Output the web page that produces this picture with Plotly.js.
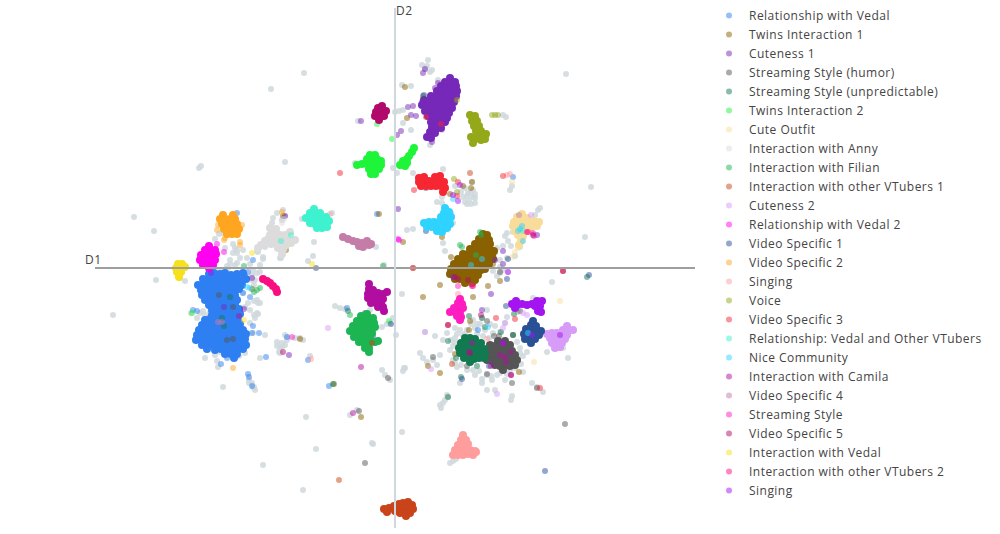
<!DOCTYPE html>
<html>
<head>
<meta charset="utf-8">
<script src="https://cdn.plot.ly/plotly-3.0.1.min.js"></script>
<style>
html,body{margin:0;padding:0;background:#fff}
.legendtext,.annotation-text{letter-spacing:0.46px}
</style>
</head>
<body>
<div id="main" style="width:1000px;height:534px"></div>
<script>
// all points are [D1, D2]
const otherDocs = [[-282,-47],[-261,51],[-241,37],[-239,-12],[-194,102],[-196,100],[-124,179],[-91,195],[-110,106],[171,194],[196,81],[190,31],[157,-14],[-132,-197],[-92,-222],[-89,-149],[-79,-181],[-22,-176],[-23,-175],[7,-164],
[-180,29],[-173,35],[-162,15],[-152,18],[-148,10],[-142,-2],[-135,3],[-167,0],[-155,10],[-138,-5],[-132,9],[-137,16],[-130,21],[-123,45],[-115,10],[-135,-35],[-138,-32],[-137,-46],[-141,-47],[-150,-39],[-152,-25],[-198,-50],[-190,-47],[-188,-50],[-130,-67],[-142,-65],[-177,-99],[-175,-84],[-153,-82],[-215,-10],[-172,-119],[-142,-119],[-146,-112],[-113,-79],[-115,-85],[-108,-69],[-113,48],[-112,58],[-118,55],[-110,52],[-158,5],[-145,4],[-140,-12],[-150,-12],[-185,-2],[-175,-2],[-165,4],[-158,15],[-210,-13],[-204,-45],[-190,-90],[-135,-90],
[-160,3],[-168,2],[-143,-12],[-143,-7],[-148,-12],[-135,-4],[-141,-17],[-141,-33],[-147,-35],[-145,-42],[-140,-50],[-145,-55],[-195,-45],[-192,-43],[-185,-44],[-160,20],[-162,24],[-158,18],[-170,20],[-176,34],[-170,36],[-165,8],[-180,-87],[-178,-93],[-150,-85],[-156,-88],[-118,-74],[-118,-78],[-116,-84],[-108,-72],[-100,-70],[-95,-70],[-146,-115],[-141,-119],
[7,-26],[12,38],[18,39],[50,17],[48,25],[112,35],[118,36],[125,21],[102,20],[105,1],[105,-5],[95,8],[108,-2],[138,-30],[123,-44],[112,-49],[92,-42],[87,-50],[90,-62],[72,-62],[65,-62],[68,-67],[52,-65],[40,-68],[30,-64],[48,-72],[55,-82],[45,-87],[32,-94],[25,-85],[10,-100],[8,-103],[62,-99],[65,-115],[87,-115],[87,-111],[80,-107],[48,-135],[53,-129],[116,-132],[142,-119],[137,-115],[148,-124],[173,-90],[168,-80],[152,-84],[122,-74],[118,-67],[110,-55],[105,-64],[98,-65],[128,-104],[115,-102],[102,-107],[92,-107],[78,-52],[82,-56],[60,-70],[58,-92],[38,-92],[42,-97],[28,-90],[97,-112],[110,-112],[125,-80],[132,-84],[100,-122],[92,-122],[117,-128],
[76,-56],[80,-60],[85,-56],[95,-56],[100,-58],[60,-60],[62,-66],[70,-66],[82,-66],[88,-68],[94,-70],[60,-95],[66,-97],[72,-102],[78,-102],[84,-103],[96,-108],[105,-105],[112,-106],[120,-100],[126,-96],[128,-88],[125,-85],[60,-75],[56,-72],[58,-78],[50,-132],[52,-127],[45,-137],[46,-140],[55,-195],[58,-193],[61,-191],[110,32],[113,27],[116,22],[120,12],[108,22],[112,10],[100,15],[105,8],[95,12],[98,-3],[102,-8],
[32,202],[35,196],[30,199],[27,203],[33,208],[37,198],[7,183],[16,182],[0,156],[8,158],[4,157],[8,145],[16,138],[47,138],[35,123],[-2,100],[2,95],[18,95],[48,99],[108,153],[111,151],[43,188],[78,71],[73,75],[68,71],[77,86],[80,70],[76,64],[80,65],[47,71],[47,65],[58,45],[118,43],[143,58],[140,53],[145,60],[-40,105],[-37,147],[42,66],[60,82],[72,64],[56,55],[50,56],[117,82],[115,78],
[70,80],[75,75],[70,66],[78,78],[74,68],[66,76],[80,74],[72,72],
[-81,26],[-82,12],[-87,7],[-93,49],[-132,11],[-138,17],[-114,10],[-19,21],[-11,3],[-63,55],[-122,50],
[-60,-38],[-55,-40],[-50,-41],[-137,-35],[-138,-45],[-110,-67],[-92,-72],[-115,-80],[-110,-77],[-113,-75],[-85,-88],[-13,-102],[-10,-107],[-5,-112],[-45,-147],[-38,-142],[-140,-122],[-143,-115],[-13,-59],[-8,-56],[-2,-50],[1,-67],[9,-100],[-5,-55],[-25,-42]];
const relVedal = [[-158,55],[-142,8],[-145,-29],[-152,-25],[-150,-7],[-147,-4],[-202,-42],[-198,-43],[-142,-58],[-143,-65],[-136,-65],[-168,-90],[-174,-96],[-129,-89],[-147,-106],[-146,-109],[-143,-118],[-108,-69],[-87,-92],[-66,-118],[-48,-40],[-18,54],[83,-62],[118,91]];
const relVedalCore = [[-186,-6],[-181,-5],[-175,-6],[-170,-5],[-164,-7],[-158,-6],[-152,-5],
[-192,-11],[-187,-12],[-181,-11],[-176,-12],[-170,-11],[-165,-12],[-159,-11],[-154,-12],[-149,-11],
[-197,-17],[-191,-16],[-186,-17],[-180,-16],[-175,-17],[-169,-16],[-164,-17],[-158,-16],[-153,-17],
[-194,-22],[-189,-21],[-183,-22],[-178,-21],[-172,-22],[-167,-21],[-161,-22],[-156,-21],
[-193,-27],[-187,-26],[-182,-27],[-176,-26],[-171,-27],[-165,-26],[-160,-27],
[-190,-32],[-185,-31],[-179,-32],[-174,-31],[-168,-32],[-163,-31],[-158,-32],
[-186,-37],[-181,-36],[-176,-37],[-170,-36],[-165,-37],[-160,-36],
[-183,-42],[-178,-41],[-172,-42],[-167,-41],[-161,-42],[-156,-41],
[-183,-47],[-177,-46],[-172,-47],[-166,-46],[-160,-47],[-155,-46],
[-190,-52],[-185,-51],[-179,-52],[-174,-51],[-168,-52],[-163,-51],[-157,-52],
[-193,-57],[-188,-56],[-182,-57],[-177,-56],[-171,-57],[-166,-56],[-160,-57],[-155,-56],
[-196,-62],[-191,-61],[-185,-62],[-180,-61],[-174,-62],[-169,-61],[-163,-62],[-158,-61],[-152,-62],
[-198,-67],[-193,-66],[-187,-67],[-182,-66],[-176,-67],[-171,-66],[-165,-67],[-160,-66],[-154,-67],[-149,-66],
[-199,-72],[-194,-71],[-188,-72],[-183,-71],[-177,-72],[-172,-71],[-166,-72],[-161,-71],[-155,-72],[-150,-71],
[-193,-77],[-188,-76],[-182,-77],[-177,-76],[-171,-77],[-166,-76],[-160,-77],[-155,-76],[-149,-77],
[-188,-81],[-180,-82],[-174,-81],[-169,-82],[-163,-81],[-158,-82],[-152,-81],
[-170,-86],[-164,-86],[-158,-86],[-161,-90]];
const twins1 = [[45,-17],[28,-29],[93,-18],[105,-13],[78,-29],[75,-53],[74,-62],[45,-105],[33,-98],[60,-86],[124,-104],[92,25],[80,22],[56,11],[47,31],[98,4],[10,181],[12,150],[45,179],[62,178],[49,162],[33,156],[36,161],[68,82],[76,80],[77,86],[55,74],[-26,109],[-109,18],[8,26],[-16,54],[-112,52],[-95,-71],[-61,-116],[-34,-149],[-143,-21]];
const twins1Core = [[88,34],[92,33],[84,29],[89,29],[94,28],[80,24],[85,24],[90,23],[95,24],[75,19],[80,19],[85,18],[90,19],[95,18],[99,17],
[68,14],[73,14],[78,13],[83,14],[88,13],[93,14],[97,13],[63,9],[68,9],[73,8],[78,9],[83,8],[88,9],[93,8],[98,9],
[59,4],[64,4],[69,3],[74,4],[79,3],[84,4],[89,3],[94,4],[56,-1],[61,-1],[66,-2],[71,-1],[76,-2],[81,-1],[86,-2],[90,-1],
[55,-6],[60,-6],[65,-7],[70,-6],[75,-7],[80,-6],[83,-7],[60,-11],[65,-11],[70,-12],[75,-11],[80,-12],[70,-15],[77,-15]];
const cuteness1 = [[28,195],[30,199],[18,162],[13,161],[6,137],[2,133],[37,126],[-34,147],[3,59],[16,153],[21,152],[27,166],[96,-26],[108,17],[100,8],[108,4],[87,-42],[142,33],[-106,-87],[-143,-10],[-151,-41],[-171,-39],[-30,-45],[-23,-57],[-22,-68],[-110,52],[58,-9],[43,185],[40,180]];
const cuteness1Core = [[55,190],[50,186],[55,185],[60,186],[46,182],[51,181],[56,181],[61,182],[42,177],[47,177],[52,176],[57,176],[62,177],
[36,172],[41,172],[46,171],[51,171],[56,172],[61,172],[29,168],[34,167],[39,167],[44,166],[49,166],[54,167],[59,166],[27,163],[32,162],[37,162],[42,161],[47,161],[52,162],[57,160],
[30,157],[35,157],[40,156],[45,156],[50,156],[54,155],[33,152],[38,151],[43,151],[48,151],[52,150],[36,146],[41,146],[46,145],[50,146],[37,141],[42,140],[46,140],[35,136],[40,135],[32,131],[36,130]];
const humor = [[38,-89],[92,-53],[99,-68],[104,-68],[125,-43],[92,-106],[117,-115],[142,-120],[72,-98],[118,-67],[105,-4],[-7,-110],[-30,-195],[-36,-143],[-176,-27],[-162,-39],[-162,-71],[-168,-72],[170,-156],[28,172]];
const humorCore = [[103,-73],[110,-73],[95,-77],[100,-78],[105,-77],[110,-78],[115,-77],[92,-82],[97,-83],[102,-82],[107,-83],[112,-82],[117,-83],[90,-87],[95,-88],[100,-87],[105,-88],[110,-87],[115,-88],[120,-87],
[92,-92],[97,-93],[102,-92],[107,-93],[112,-92],[117,-93],[122,-92],[100,-97],[105,-98],[110,-97],[115,-98],[120,-97],[108,-102]];
const unpredictable = [[53,-73],[74,-48],[87,-50],[119,-46],[118,-67],[61,-90],[82,-98],[66,-109],[53,-129],[106,-64],[90,-59],[-47,-43],[-62,-116],[-165,-29],[-171,-58],[-173,-50],[192,-9]];
const unpredictableCore = [[70,-70],[75,-70],[80,-71],[66,-75],[71,-75],[76,-75],[81,-76],[86,-75],[64,-80],[69,-80],[74,-80],[79,-81],[84,-80],[89,-81],[65,-85],[70,-85],[75,-85],[80,-86],[85,-85],[90,-85],[69,-90],[74,-90],[79,-91],[84,-90],[89,-90],[75,-94]];
const twins2 = [[-3,129],[-6,-53],[-203,-45],[-18,144]];
const twins2Core = [[-25,113],[-20,113],[-28,109],[-23,108],[-18,109],[-14,107],[-38,103],[-33,104],[-28,104],[-23,103],[-18,104],[-14,103],[-26,99],[-21,98],[-16,99],[-24,94],[-20,94],
[19,120],[17,116],[14,112],[12,109],[8,107],[12,105],[5,103],[10,102]];
const cuteOutfit = [[120,16],[123,20],[117,11],[117,86],[165,-33],[139,-94]];
const cuteOutfitCore = [[127,54],[122,51],[127,50],[132,50],[119,46],[124,46],[129,46],[134,46],[139,47],[144,46],[118,42],[123,41],[128,41],[133,42],[138,42],[142,42],[120,37],[125,36],[130,37],[135,37],[123,33],[128,32],[126,27],[124,23]];
const anny = [[-111,49],[-113,45]];
const annyCore = [[-125,40],[-119,39],[-115,33],[-120,35],[-125,33],[-110,33],[-105,36],[-127,29],[-122,29],[-117,28],[-112,29],[-107,28],[-124,24],[-119,24],[-114,24],[-109,23],[-104,25],[-117,20],[-112,19],[-113,14],[-130,27],[-134,23],[-137,20],[-100,28]];
const filian = [[-151,2],[85,36],[86,33],[65,23],[67,21],[81,13],[-12,2],[-90,50],[-45,-47],[-141,-24],[-138,-22],[-135,-20]];
const filianCore = [[-28,-46],[-34,-48],[-28,-51],[-22,-50],[-38,-53],[-33,-54],[-27,-56],[-21,-55],[-42,-58],[-37,-59],[-32,-60],[-26,-60],[-20,-59],[-45,-63],[-40,-64],[-34,-64],[-29,-65],[-23,-65],[-41,-69],[-36,-69],[-30,-70],[-25,-70],[-36,-74],[-31,-75],[-26,-75],[-20,-74],[-17,-73],[-30,-80],[-26,-80],[-26,-84]];
const otherVt1 = [[-56,-212],[18,0],[57,-96],[75,95],[-23,-75]];
const otherVt1Core = [[-11,-241],[-6,-240],[-1,-238],[0,-243],[-8,-244],[4,-236],[8,-235],[13,-234],[17,-237],[4,-241],[9,-240],[14,-240],[18,-241],[5,-245],[10,-245],[15,-245],[11,-248]];
const cuteness2 = [[30,-64],[36,-101],[102,-126],[132,-47],[128,-45],[110,-55],[108,-60],[113,-4],[-67,-60],[136,53]];
const cuteness2Core = [[172,-58],[168,-62],[173,-63],[178,-62],[152,-66],[157,-65],[162,-65],[167,-66],[172,-67],[155,-70],[160,-70],[165,-71],[170,-71],[157,-75],[162,-75],[167,-75],[160,-80],[165,-79]];
const relVedal2 = [[-178,24],[-171,16],[4,28],[3,29]];
const relVedal2Core = [[-186,22],[-190,18],[-185,18],[-180,18],[-194,13],[-189,13],[-184,13],[-179,14],[-195,8],[-190,8],[-185,8],[-180,8],[-192,3],[-187,3],[-182,3],[-186,0]];
const video1 = [[111,-38],[67,-111],[94,-98],[113,9],[31,37],[-79,0],[31,80],[29,173],[-4,-56],[194,-7],[112,-11],[150,-203]];
const video1Core = [[138,-53],[136,-57],[141,-58],[131,-61],[136,-62],[141,-62],[146,-63],[129,-66],[134,-67],[139,-66],[144,-67],[130,-71],[135,-72],[140,-71],[136,-75]];
const video2 = [[-177,43],[-178,38],[-170,30],[-155,26],[-153,43],[-162,-100],[-113,56],[-171,28],[-155,23]];
const video2Core = [[-172,53],[-162,53],[-175,49],[-170,49],[-165,49],[-160,49],[-173,44],[-168,44],[-163,44],[-158,44],[-171,39],[-166,39],[-161,39],[-156,39],[-168,34],[-163,34],[-158,34]];
const singing = [[92,-71],[-84,-91],[-65,54],[115,94],[112,93],[63,-26]];
const singingCore = [[68,-167],[66,-172],[71,-172],[63,-177],[68,-177],[73,-176],[60,-182],[65,-182],[70,-181],[75,-182],[80,-183],[58,-187],[63,-187],[68,-187],[73,-186],[78,-187],[81,-184]];
const voice = [[62,168],[100,153],[97,153],[103,153],[59,89],[62,76]];
const voiceCore = [[75,153],[80,152],[77,147],[82,147],[79,142],[84,142],[81,137],[86,137],[83,132],[88,132],[91,134],[76,131],[80,129],[86,128],[90,129],[78,125]];
const video3 = [[-55,95],[19,78],[31,151],[46,144],[63,86],[62,72],[108,92],[101,-50],[120,-51],[53,-57],[145,-120],[168,-3],[18,0]];
const video3Core = [[24,90],[29,91],[40,91],[45,92],[24,86],[29,86],[34,87],[39,86],[44,87],[49,86],[26,82],[31,82],[36,82],[41,82],[46,82],[50,80],[48,76]];
const vedalVtubers = [[-114,27],[-104,33],[128,37]];
const vedalVtubersCore = [[-81,59],[-85,55],[-80,54],[-75,55],[-89,50],[-84,49],[-79,49],[-74,50],[-69,51],[-85,45],[-80,44],[-75,44],[-70,45],[-66,47],[-78,40],[-73,40],[-68,41]];
const niceCommunity = [[-148,-19],[-145,-20],[128,27],[125,39],[127,42],[123,37],[87,9],[76,3],[93,-59],[133,-65],[58,69]];
const niceCommunityCore = [[50,60],[49,55],[54,56],[46,51],[51,50],[56,51],[29,45],[34,46],[39,46],[44,46],[49,46],[55,44],[32,41],[37,41],[42,41],[47,41],[52,40],[42,37],[47,36]];
const camila = [[74,-84],[77,-75],[108,-75],[105,-87],[110,-89],[111,-94],[116,-84],[116,-107],[96,-98],[-42,-145],[-34,-99],[-156,-48]];
const camilaCore = [[-26,-16],[-26,-21],[-22,-22],[-27,-26],[-22,-26],[-17,-25],[-12,-26],[-8,-24],[-27,-30],[-22,-31],[-17,-30],[-12,-31],[-24,-35],[-19,-35],[-14,-35],[-17,-39],[-12,-39],[-11,-43]];
const video4 = [[-177,-54],[-173,-54],[124,53]];
const video4Core = [[-52,31],[-47,29],[-42,27],[-38,26],[-33,25],[-28,27],[-24,24],[-36,22],[-32,21],[-26,23]];
const streamingStyle = [[-103,-69],[63,-18],[77,-18],[138,35],[133,36],[139,32]];
const streamingStyleCore = [[65,-31],[63,-35],[67,-36],[59,-40],[64,-40],[68,-40],[55,-44],[60,-44],[65,-44],[62,-48],[66,-49],[65,-52]];
const video5 = [[-112,-84],[73,-12],[63,-11],[60,-9],[168,-3],[53,-57],[86,-47],[116,-107],[138,33],[75,-85]];
const video5Core = [[-17,160],[-13,162],[-19,156],[-14,156],[-9,157],[-20,152],[-15,151],[-11,152],[-16,148]];
const interactVedal = [[-83,4],[-143,15],[-151,-52]];
const interactVedalCore = [[-217,4],[-213,4],[-219,0],[-214,0],[-210,1],[-218,-4],[-214,-4],[-216,-9]];
const otherVt2 = [[132,36],[78,-18]];
const otherVt2Core = [[-132,-11],[-128,-13],[-125,-15],[-122,-18],[-119,-21],[-118,-24]];
const singing2 = [[63,67],[58,73],[65,83],[113,-4],[165,-67],[137,-67],[108,-75],[-184,-5]];
const singing2Core = [[121,-33],[117,-36],[122,-37],[127,-36],[132,-37],[137,-36],[142,-33],[147,-33],[120,-40],[140,-38],[145,-38],[143,-43],[146,-44]];

const topicNames = ["Relationship with Vedal","Twins Interaction 1","Cuteness 1","Streaming Style (humor)","Streaming Style (unpredictable)","Twins Interaction 2","Cute Outfit","Interaction with Anny","Interaction with Filian","Interaction with other VTubers 1","Cuteness 2","Relationship with Vedal 2","Video Specific 1","Video Specific 2","Singing","Voice","Video Specific 3","Relationship: Vedal and Other VTubers","Nice Community","Interaction with Camila","Video Specific 4","Streaming Style","Video Specific 5","Interaction with Vedal","Interaction with other VTubers 2","Singing"];
const topicColors = ["#2e7ff2","#8a6100","#7628b8","#555555","#127a50","#1ef53a","#f8dd9a","#dcdcdc","#1cb552","#c9441a","#d79cf8","#ff00f0","#2a5096","#ffa51f","#ff9d9d","#94a81a","#f62633","#3ef2cf","#2ed3ff","#b10da1","#c47ca8","#ff1cc0","#b10a6a","#f7e11a","#fb0d82","#a314f0"];
const topicSpread = [relVedal,twins1,cuteness1,humor,unpredictable,twins2,cuteOutfit,anny,filian,otherVt1,cuteness2,relVedal2,video1,video2,singing,voice,video3,vedalVtubers,niceCommunity,camila,video4,streamingStyle,video5,interactVedal,otherVt2,singing2];
const topicCores = [relVedalCore,twins1Core,cuteness1Core,humorCore,unpredictableCore,twins2Core,cuteOutfitCore,annyCore,filianCore,otherVt1Core,cuteness2Core,relVedal2Core,video1Core,video2Core,singingCore,voiceCore,video3Core,vedalVtubersCore,niceCommunityCore,camilaCore,video4Core,streamingStyleCore,video5Core,interactVedalCore,otherVt2Core,singing2Core];

const traces = [{
    x: otherDocs.map(p => p[0]),
    y: otherDocs.map(p => p[1]),
    type: "scatter",
    mode: "markers",
    showlegend: false,
    hoverinfo: "skip",
    marker: { color: "#cfd8dc", size: 6, opacity: 0.85 },
}];

topicNames.forEach((name, i) => {
    const group = "t" + i;
    traces.push({
        name: name,
        legendgroup: group,
        x: topicSpread[i].map(p => p[0]),
        y: topicSpread[i].map(p => p[1]),
        type: "scatter",
        mode: "markers",
        marker: { color: topicColors[i], size: 6, opacity: 0.5 },
    });
    // the dense part of a topic, overplotted so it reads solid
    traces.push({
        name: name,
        legendgroup: group,
        showlegend: false,
        x: topicCores[i].map(p => p[0]),
        y: topicCores[i].map(p => p[1]),
        type: "scatter",
        mode: "markers",
        marker: { color: topicColors[i], size: 8, opacity: 1 },
    });
});

Plotly.newPlot("main", traces, {
    width: 1000,
    height: 534,
    margin: { l: 85, r: 295, t: 0, b: 0, autoexpand: false },
    paper_bgcolor: "#fff",
    plot_bgcolor: "#fff",
    xaxis: { range: [-310, 310], visible: false },
    yaxis: { range: [-266, 268], visible: false },
    legend: { x: 1.0065, y: 0.998, xanchor: "left", yanchor: "top", tracegroupgap: 0, font: { size: 12, color: "#444" } },
    shapes: [
        { type: "line", x0: -300, x1: 300, y0: 0, y1: 0, line: { color: "#9e9e9e", width: 2 } },
        { type: "line", x0: 0, x1: 0, y0: -260, y1: 260, line: { color: "#cfd8dc", width: 2 } },
    ],
    annotations: [
        { text: "D1", x: -302, y: 0, yshift: 9, showarrow: false, font: { size: 12, color: "#444" } },
        { text: "D2", x: 0, y: 258, xshift: 9, showarrow: false, font: { size: 12, color: "#444" } },
    ],
}, { displayModeBar: false });
</script>
</body>
</html>
